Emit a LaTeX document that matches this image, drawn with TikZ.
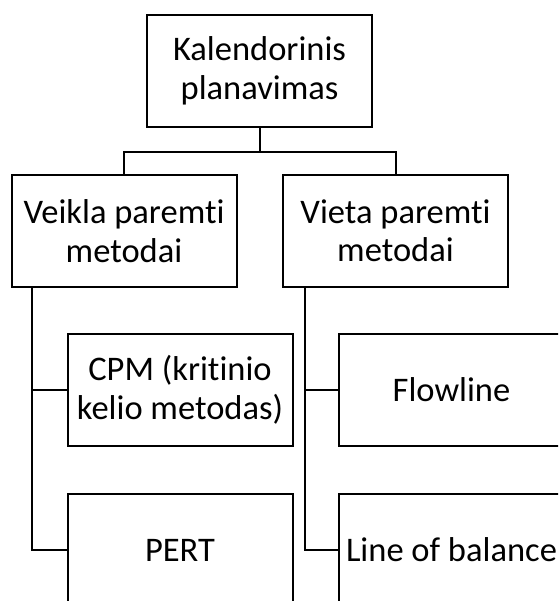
\documentclass[tikz,border=0pt]{standalone}
\usepackage{fontspec}
\setmainfont{Carlito}[Ligatures=NoCommon]
\begin{document}
\begin{tikzpicture}[x=1pt,y=-1pt,
  box/.style={draw, line width=2pt, minimum width=225pt, minimum height=112pt,
    inner sep=0pt, align=center, font=\fontsize{34.5}{38.5}\selectfont},
  link/.style={line width=2pt}]
\useasboundingbox (0,0) rectangle (558,601);
\clip (0,0) rectangle (558,601);

% hierarchy boxes
\node[box] (top)   at (259.5,71)  {Kalendorinis\\planavimas};
\node[box] (left)  at (124,231)   {Veikla paremti\\metodai};
\node[box] (right) at (395.5,231) {Vieta paremti\\metodai};
\node[box] (cpm)   at (180,390)   {CPM (kritinio\\kelio metodas)};
\node[box] (pert)  at (180,550)   {PERT};
\node[box] (flow)  at (451.5,390) {Flowline};
\node[box] (lob)   at (451.5,550) {Line of balance};

% top level branching
\coordinate (split) at (259.5,152);
\draw[link] (top.south) -- (split);
\draw[link] (left.north) |- (split) -| (right.north);

% left branch
\coordinate (lstem) at ([xshift=21.5pt]left.south west);
\draw[link] (lstem) |- (pert.west);
\draw[link] (lstem |- cpm.west) -- (cpm.west);

% right branch
\coordinate (rstem) at ([xshift=22.5pt]right.south west);
\draw[link] (rstem) |- (lob.west);
\draw[link] (rstem |- flow.west) -- (flow.west);
\end{tikzpicture}
\end{document}
